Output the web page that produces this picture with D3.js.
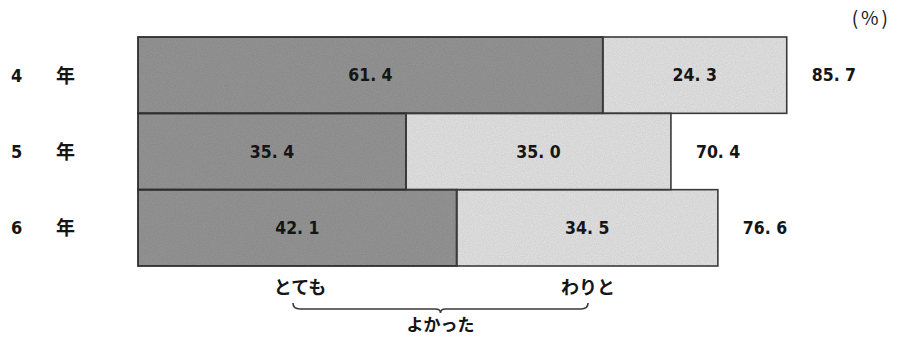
<!DOCTYPE html>
<html>
<head>
<meta charset="utf-8">
<script src="https://cdn.jsdelivr.net/npm/d3@7"></script>
<style>
  html, body { margin: 0; padding: 0; background: #fff; }
  svg { display: block; }
  text { font-family: "Noto Sans CJK JP", "DejaVu Sans", sans-serif; fill: #151515; }
  text.num { font-family: "Liberation Sans Narrow", "DejaVu Sans Condensed", "Noto Sans CJK JP", sans-serif; }
</style>
</head>
<body>
<svg id="chart" width="897" height="338"></svg>
<script>
// 学年別の回答割合（%）
const grades = ["4", "5", "6"];
const gradeSuffix = "年";
const veryGood = [61.4, 35.4, 42.1];    // とても よかった
const fairlyGood = [24.3, 35.0, 34.5];  // わりと よかった
const totals = [85.7, 70.4, 76.6];
const segmentNames = ["とても", "わりと"];
const groupLabel = "よかった";
const unitLabel = "(%)";

const fmt = v => v.toFixed(1).replace(".", ". ");

const svg = d3.select("#chart");

const x = d3.scaleLinear().domain([0, 100]).range([138, 895]);
const y = d3.scaleBand().domain(grades).range([37, 266]).padding(0);

// grain texture for the printed bars
const defs = svg.append("defs");
const filt = defs.append("filter").attr("id", "grain").attr("x", 0).attr("y", 0).attr("width", 1).attr("height", 1);
filt.append("feTurbulence").attr("type", "fractalNoise").attr("baseFrequency", 0.9).attr("numOctaves", 2).attr("seed", 3).attr("result", "noise");
filt.append("feColorMatrix").attr("in", "noise").attr("type", "matrix")
  .attr("values", "0 0 0 0 0  0 0 0 0 0  0 0 0 0 0  0 0 0 0.22 0").attr("result", "dots");
filt.append("feComposite").attr("in", "dots").attr("in2", "SourceGraphic").attr("operator", "atop").attr("result", "speck");
const merge = filt.append("feMerge");
merge.append("feMergeNode").attr("in", "SourceGraphic");
merge.append("feMergeNode").attr("in", "speck");

const rows = grades.map((g, i) => ({ g, a: veryGood[i], b: fairlyGood[i], t: totals[i] }));
const mid = d => y(d.g) + y.bandwidth() / 2;

const gBars = svg.append("g");
// dark segment
gBars.selectAll("rect.a").data(rows).join("rect")
  .attr("class", "a")
  .attr("x", x(0))
  .attr("y", d => y(d.g))
  .attr("width", d => x(d.a) - x(0))
  .attr("height", y.bandwidth())
  .attr("fill", "#969696")
  .attr("filter", "url(#grain)");
// light segment
gBars.selectAll("rect.b").data(rows).join("rect")
  .attr("class", "b")
  .attr("x", d => x(d.a))
  .attr("y", d => y(d.g))
  .attr("width", d => x(d.a + d.b) - x(d.a))
  .attr("height", y.bandwidth())
  .attr("fill", "#e4e4e4")
  .attr("filter", "url(#grain)");
// outlines
gBars.selectAll("rect.oa").data(rows).join("rect")
  .attr("x", x(0)).attr("y", d => y(d.g))
  .attr("width", d => x(d.a) - x(0)).attr("height", y.bandwidth())
  .attr("fill", "none").attr("stroke", "#2e2e2e").attr("stroke-width", 1.8);
gBars.selectAll("rect.ob").data(rows).join("rect")
  .attr("x", d => x(d.a)).attr("y", d => y(d.g))
  .attr("width", d => x(d.a + d.b) - x(d.a)).attr("height", y.bandwidth())
  .attr("fill", "none").attr("stroke", "#3a3a3a").attr("stroke-width", 1.6);

const fs = 17.5;
function num(sel) {
  return sel.attr("class", "num").attr("dominant-baseline", "central")
    .attr("font-size", fs).attr("font-weight", "bold");
}
// value labels
num(svg.selectAll("text.va").data(rows).join("text")
  .attr("x", d => (x(0) + x(d.a)) / 2).attr("y", mid)
  .attr("text-anchor", "middle"))
  .text(d => fmt(d.a));
num(svg.selectAll("text.vb").data(rows).join("text")
  .attr("x", d => (x(d.a) + x(d.a + d.b)) / 2).attr("y", mid)
  .attr("text-anchor", "middle"))
  .text(d => fmt(d.b));
num(svg.selectAll("text.vt").data(rows).join("text")
  .attr("x", d => x(d.t) + 25).attr("y", mid)
  .attr("text-anchor", "start"))
  .text(d => fmt(d.t));

// grade labels
svg.selectAll("text.gn").data(rows).join("text")
  .attr("class", "num")
  .attr("x", 11).attr("y", mid)
  .attr("dominant-baseline", "central")
  .attr("font-size", 18).attr("font-weight", "bold")
  .text(d => d.g);
svg.selectAll("text.gs").data(rows).join("text")
  .attr("x", 56).attr("y", d => mid(d) - 1)
  .attr("dominant-baseline", "central")
  .attr("font-size", 19).attr("font-weight", "bold")
  .text(gradeSuffix);

// unit
svg.append("text").attr("x", 891).attr("y", 25).attr("text-anchor", "end")
  .attr("font-size", 19).attr("letter-spacing", 3).text(unitLabel);

// segment captions and brace
const bx0 = 293, bx1 = 588, bmid = (bx0 + bx1) / 2;
svg.append("text").attr("x", 300).attr("y", 294).attr("text-anchor", "middle")
  .attr("font-size", 18).attr("font-weight", "bold").text(segmentNames[0]);
svg.append("text").attr("x", 588).attr("y", 294).attr("text-anchor", "middle")
  .attr("font-size", 18).attr("font-weight", "bold").text(segmentNames[1]);
const by = 309;
const brace = d3.path();
brace.moveTo(bx0, by - 6);
brace.quadraticCurveTo(bx0, by, bx0 + 7, by);
brace.lineTo(bmid - 5, by);
brace.quadraticCurveTo(bmid, by, bmid, by + 4);
brace.quadraticCurveTo(bmid, by, bmid + 5, by);
brace.lineTo(bx1 - 7, by);
brace.quadraticCurveTo(bx1, by, bx1, by - 6);
svg.append("path").attr("d", brace.toString()).attr("fill", "none")
  .attr("stroke", "#3a3a3a").attr("stroke-width", 1.6);
svg.append("text").attr("x", bmid).attr("y", 331).attr("text-anchor", "middle")
  .attr("font-size", 17).attr("font-weight", "bold").text(groupLabel);
</script>
</body>
</html>
